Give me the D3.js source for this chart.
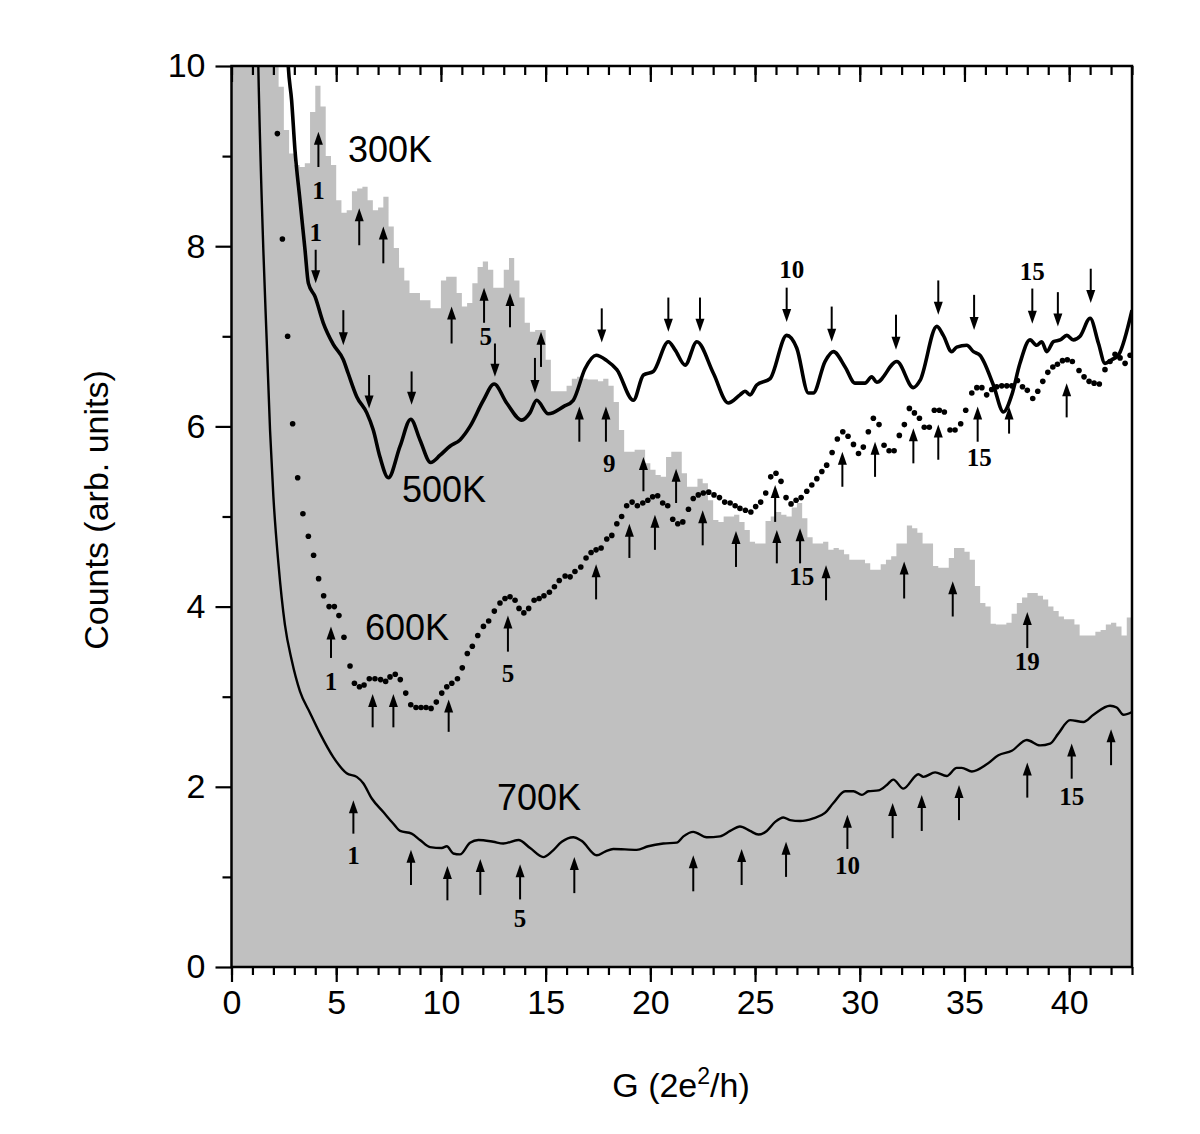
<!DOCTYPE html>
<html><head><meta charset="utf-8">
<script src="https://cdn.jsdelivr.net/npm/d3@7"></script>
<style>body{margin:0;background:#fff}</style>
</head><body>
<script>
// ---------- DATA ----------
// 300K histogram: bin width 0.25, bins start at G = 0
const histBinWidth = 0.25;
const hist300 = [
 15,15,15,15,15,15,15,15,15,
 9.77,9.29,9.03,8.90,8.88,8.92,9.49,9.78,9.55,9.00,8.90,8.51,8.37,8.40,8.61,8.64,
 8.66,8.51,8.40,8.43,8.55,8.22,7.98,7.76,7.62,7.48,7.48,7.40,7.40,7.31,7.31,7.62,
 7.66,7.66,7.48,7.33,7.37,7.59,7.77,7.83,7.74,7.54,7.54,7.74,7.87,7.62,7.43,7.15,
 7.05,7.07,7.07,6.74,6.39,6.39,6.39,6.45,6.53,6.55,6.53,6.52,6.52,6.50,6.53,6.45,
 6.27,5.96,5.72,5.72,5.74,5.74,5.59,5.52,5.46,5.44,5.66,5.72,5.72,5.48,5.33,5.33,
 5.42,5.37,5.18,4.96,4.94,5.00,5.00,5.02,4.94,4.85,4.72,4.70,4.70,4.95,5.00,5.05,
 5.02,5.00,5.10,5.15,4.98,4.77,4.70,4.70,4.72,4.63,4.65,4.63,4.58,4.52,4.52,4.52,
 4.48,4.41,4.41,4.47,4.52,4.56,4.70,4.70,4.90,4.87,4.82,4.70,4.70,4.45,4.43,4.43,
 4.54,4.65,4.65,4.61,4.52,4.23,4.04,4.00,3.81,3.80,3.80,3.82,3.92,4.04,4.10,4.15,
 4.15,4.12,4.08,4.00,3.95,3.89,3.86,3.86,3.80,3.68,3.68,3.68,3.72,3.74,3.80,3.82,
 3.78,3.68,3.88
];

// 500K solid line
const g500 = [2.60,2.71,2.87,3.03,3.27,3.51,3.67,3.99,4.38,4.86,5.34,5.57,5.98,6.46,6.77,7.09,7.49,8.05,8.56,9.00,9.51,9.96,10.43,10.91,11.39,12.03,12.54,13.14,13.86,14.25,14.57,15.13,15.85,16.32,16.88,17.41,17.92,18.40,19.19,19.67,20.14,20.86,21.18,21.66,22.22,23.01,23.72,24.28,24.52,24.76,25.08,25.72,26.51,26.99,27.55,27.78,28.34,28.74,29.30,29.78,30.25,30.57,30.81,31.77,32.56,32.88,33.68,33.99,34.39,34.63,35.11,35.43,35.74,36.38,36.86,37.26,37.65,38.13,38.45,38.69,38.93,39.25,39.57,39.89,40.20,40.52,41.00,41.40,41.71,42.03,42.35,43.00];
const c500 = [10.6,10.0,9.62,9.07,8.51,7.96,7.59,7.44,7.15,6.91,6.74,6.59,6.33,6.15,5.96,5.66,5.43,5.78,6.08,5.85,5.60,5.68,5.78,5.85,6.00,6.29,6.47,6.26,6.07,6.15,6.29,6.14,6.22,6.29,6.64,6.79,6.73,6.63,6.29,6.57,6.61,6.94,6.85,6.68,6.94,6.59,6.26,6.35,6.39,6.35,6.46,6.53,7.01,6.87,6.37,6.37,6.72,6.83,6.66,6.48,6.48,6.55,6.49,6.72,6.43,6.51,7.11,7.01,6.83,6.88,6.90,6.83,6.79,6.46,6.16,6.35,6.70,6.96,6.90,6.94,6.83,6.94,6.96,7.01,6.96,7.00,7.20,6.92,6.70,6.74,6.79,7.29];

// 600K dotted series
const g600 = [2.19,2.43,2.68,2.92,3.16,3.41,3.67,3.92,4.16,4.40,4.66,4.91,5.13,5.37,5.66,5.87,6.11,6.33,6.58,6.85,7.12,7.36,7.57,7.82,8.06,8.32,8.56,8.81,9.05,9.29,9.53,9.78,10.04,10.28,10.52,10.79,11.02,11.26,11.50,11.76,12.03,12.28,12.55,12.82,13.06,13.30,13.54,13.73,13.96,14.19,14.45,14.69,14.92,15.18,15.42,15.65,15.93,16.17,16.40,16.68,16.93,17.17,17.41,17.65,17.92,18.16,18.40,18.63,18.87,19.13,19.38,19.64,19.88,20.11,20.35,20.59,20.83,21.07,21.31,21.55,21.82,22.05,22.29,22.53,22.79,23.04,23.30,23.55,23.81,24.05,24.28,24.54,24.80,25.03,25.27,25.51,25.75,26.00,26.24,26.48,26.72,26.96,27.20,27.47,27.71,27.95,28.19,28.42,28.68,28.93,29.19,29.44,29.70,29.94,30.17,30.41,30.65,30.92,31.16,31.40,31.64,31.89,32.13,32.37,32.61,32.85,33.08,33.32,33.56,33.80,34.04,34.31,34.55,34.82,35.06,35.35,35.59,35.83,36.06,36.30,36.54,36.78,37.02,37.26,37.53,37.77,38.00,38.26,38.50,38.74,38.98,39.22,39.44,39.68,39.91,40.15,40.47,40.71,40.95,41.19,41.44,41.71,41.95,42.19,42.43,42.67,42.91];
const c600 = [9.25,8.08,7.00,6.03,5.43,5.03,4.78,4.57,4.31,4.12,4.00,4.00,3.90,3.66,3.34,3.15,3.11,3.13,3.20,3.20,3.19,3.17,3.22,3.25,3.19,3.04,2.91,2.88,2.88,2.88,2.87,2.94,3.04,3.11,3.15,3.20,3.32,3.48,3.56,3.68,3.78,3.84,3.95,4.04,4.09,4.11,4.07,3.98,3.93,3.98,4.07,4.09,4.12,4.16,4.22,4.29,4.34,4.33,4.39,4.44,4.54,4.60,4.63,4.65,4.75,4.79,4.92,5.00,5.12,5.16,5.12,5.15,5.18,5.22,5.23,5.15,5.12,4.97,4.92,4.94,5.08,5.20,5.24,5.26,5.27,5.24,5.21,5.16,5.15,5.12,5.09,5.07,5.05,5.11,5.16,5.26,5.44,5.48,5.39,5.21,5.14,5.18,5.21,5.28,5.35,5.42,5.50,5.57,5.71,5.86,5.94,5.89,5.80,5.70,5.77,5.94,6.09,6.02,5.79,5.73,5.73,5.90,6.02,6.20,6.15,6.09,5.99,5.99,6.18,6.18,6.16,5.96,5.96,6.03,6.18,6.37,6.43,6.43,6.35,6.41,6.44,6.45,6.45,6.45,6.51,6.44,6.40,6.31,6.39,6.50,6.60,6.66,6.69,6.73,6.74,6.72,6.62,6.55,6.50,6.48,6.47,6.63,6.72,6.80,6.76,6.70,6.79];

// 700K solid line
const g700 = [1.20,1.28,1.52,1.68,1.84,2.00,2.24,2.55,2.87,3.27,3.75,4.23,4.86,5.50,5.98,6.29,6.70,7.25,7.73,8.05,8.60,9.00,9.48,10.04,10.28,10.59,10.91,11.39,11.79,12.50,12.98,13.70,14.26,14.89,15.29,15.77,16.32,16.72,17.44,17.84,18.23,19.35,19.90,20.62,21.26,21.58,22.05,22.69,23.33,23.81,24.28,24.76,25.16,25.56,25.96,26.35,26.67,27.15,27.78,28.34,28.74,29.30,29.70,30.10,30.41,30.89,31.29,31.60,32.08,32.80,33.04,33.60,34.15,34.63,34.87,35.35,36.06,36.62,37.26,37.98,38.61,39.09,39.48,40.04,40.68,41.16,41.95,42.27,42.59,43.00];
const c700 = [11.0,10.0,7.96,6.96,5.96,5.22,4.48,3.80,3.41,3.06,2.82,2.59,2.33,2.15,2.11,2.04,1.87,1.72,1.59,1.51,1.48,1.41,1.33,1.32,1.34,1.26,1.25,1.38,1.41,1.39,1.37,1.41,1.32,1.22,1.28,1.39,1.44,1.40,1.24,1.28,1.31,1.30,1.34,1.37,1.38,1.45,1.50,1.44,1.45,1.51,1.56,1.51,1.47,1.51,1.61,1.66,1.63,1.62,1.65,1.71,1.82,1.95,1.95,1.91,1.95,1.96,2.02,2.08,1.98,2.14,2.11,2.16,2.12,2.21,2.21,2.17,2.25,2.35,2.40,2.52,2.46,2.48,2.59,2.74,2.72,2.80,2.90,2.88,2.80,2.83];

// arrows: G position, tail value, tip value
const arrowG    = [4.15,4.02,6.10,7.25,5.34,10.51,12.06,13.30,12.58,14.49,14.78,6.57,8.60,17.68,20.86,22.37,26.51,28.66,31.73,33.75,35.46,38.24,39.46,41.03,
                   16.61,17.88,19.67,21.23,19.00,20.22,22.50,17.41,24.09,25.96,26.04,27.15,28.39,29.17,30.73,32.56,33.75,35.63,37.13,39.88,32.12,34.44,38.00,
                   4.75,6.74,7.73,10.37,13.20,5.82,8.57,10.31,11.88,13.78,16.37,22.05,24.36,26.48,29.41,31.57,32.96,34.74,38.00,40.12,42.00];
const arrowTail = [8.88,7.96,8.01,7.81,7.29,6.92,7.15,7.10,6.92,6.76,6.66,6.57,6.61,7.31,7.43,7.43,7.54,7.33,7.24,7.62,7.46,7.53,7.49,7.75,
                   5.83,5.83,5.28,5.15,4.54,4.63,4.68,4.08,4.44,4.94,4.48,4.48,4.07,5.33,5.44,5.59,5.63,5.83,5.92,6.10,4.09,3.89,3.54,
                   3.43,2.66,2.66,2.61,3.50,1.48,0.91,0.74,0.80,0.75,0.82,0.84,0.91,1.00,1.31,1.43,1.51,1.63,1.88,2.09,2.24];
const arrowTip  = [9.27,7.59,8.42,8.22,6.90,7.33,7.54,7.48,6.55,6.37,7.05,6.20,6.24,6.93,7.05,7.05,7.16,6.94,6.85,7.24,7.07,7.14,7.11,7.37,
                   6.22,6.22,5.66,5.53,4.92,5.02,5.07,4.47,4.84,5.35,4.85,4.87,4.46,5.72,5.83,5.98,6.02,6.22,6.22,6.48,4.50,4.28,3.94,
                   3.78,3.03,3.03,2.97,3.90,1.85,1.30,1.12,1.20,1.14,1.22,1.24,1.31,1.39,1.69,1.82,1.91,2.02,2.27,2.48,2.64];

// peak index labels: text, G, value (centre)
const idxText = ["1","1","5","9","10","15","15","15","19","1","5","1","5","10","15"];
const idxG    = [4.15,4.02,12.14,18.04,26.75,38.24,27.23,35.71,38.00,4.75,13.20,5.82,13.78,29.41,40.12];
const idxVal  = [8.62,8.15,7.00,5.59,7.74,7.72,4.33,5.65,3.39,3.17,3.26,1.24,0.54,1.13,1.89];

// temperature labels: text, G (left edge), value (baseline)
const tempText = ["300K","500K","600K","700K"];
const tempG    = [5.56,8.14,6.37,12.68];
const tempVal  = [8.93,5.16,3.63,1.74];

const xMajor = [0,5,10,15,20,25,30,35,40];
const yMajor = [0,2,4,6,8,10];

// ---------- CHART ----------
const W = 1200, H = 1134;
const L = 231.5, R = 1132, T = 66, B = 967;
const svg = d3.select("body").append("svg").attr("width", W).attr("height", H);
const x = d3.scaleLinear().domain([0, 43]).range([L, R]);
const y = d3.scaleLinear().domain([0, 10]).range([B, T]);

svg.append("clipPath").attr("id", "clip").append("rect")
  .attr("x", L).attr("y", T).attr("width", R - L).attr("height", B - T);
const plot = svg.append("g").attr("clip-path", "url(#clip)");

// histogram
const histPts = hist300.map((v, i) => ({g: i * histBinWidth, v}));
histPts.push({g: 43, v: hist300[hist300.length - 1]});
plot.append("path").datum(histPts)
  .attr("fill", "#c0c0c0")
  .attr("d", d3.area().curve(d3.curveStepAfter).x(d => x(d.g)).y0(y(0)).y1(d => y(d.v)));

// lines
const line = d3.line().x(d => x(d[0])).y(d => y(d[1])).curve(d3.curveMonotoneX);
plot.append("path").datum(g500.map((g, i) => [g, c500[i]]))
  .attr("fill", "none").attr("stroke", "#000").attr("stroke-width", 3.6).attr("stroke-linejoin", "round")
  .attr("d", line);
plot.append("path").datum(g700.map((g, i) => [g, c700[i]]))
  .attr("fill", "none").attr("stroke", "#000").attr("stroke-width", 2.4).attr("stroke-linejoin", "round")
  .attr("d", line);

// dots
plot.selectAll("circle.d600").data(g600.map((g, i) => [g, c600[i]])).enter()
  .append("circle").attr("class", "d600")
  .attr("cx", d => x(d[0])).attr("cy", d => y(d[1])).attr("r", 2.8).attr("fill", "#000");

// arrows
const ag = plot.append("g");
arrowG.forEach((g, i) => {
  const px = x(g), yt = y(arrowTail[i]), yh = y(arrowTip[i]);
  const dir = yh < yt ? 1 : -1; // 1: pointing up
  const hl = 13, hw = 4.5;
  ag.append("line").attr("x1", px).attr("x2", px).attr("y1", yt).attr("y2", yh + dir * (hl - 2))
    .attr("stroke", "#000").attr("stroke-width", 2);
  ag.append("path").attr("fill", "#000")
    .attr("d", `M${px},${yh} L${px - hw},${yh + dir * hl} L${px + hw},${yh + dir * hl} Z`);
});

// index labels
svg.selectAll("text.idx").data(idxText).enter().append("text").attr("class", "idx")
  .attr("x", (d, i) => x(idxG[i])).attr("y", (d, i) => y(idxVal[i]) + 8.5)
  .attr("text-anchor", "middle")
  .style("font-family", "'Liberation Serif','Times New Roman',serif").style("font-weight", "bold").style("font-size", "25px")
  .text(d => d);

// temperature labels
svg.selectAll("text.temp").data(tempText).enter().append("text").attr("class", "temp")
  .attr("x", (d, i) => x(tempG[i])).attr("y", (d, i) => y(tempVal[i]))
  .style("font-family", "'Liberation Sans',Arial,sans-serif").style("font-size", "36px")
  .text(d => d);

// axes
const tickStyle = g => { g.selectAll("line").attr("stroke", "#000").attr("stroke-width", 2.2); g.select(".domain").remove(); };
const lab = g => g.selectAll("text").style("font-family", "'Liberation Sans',Arial,sans-serif").style("font-size", "34px").attr("fill", "#000");

// bottom
svg.append("g").attr("transform", `translate(0,${B})`)
  .call(d3.axisBottom(x).tickValues(d3.range(0, 44, 1)).tickSize(8).tickFormat(""))
  .call(tickStyle);
svg.append("g").attr("transform", `translate(0,${B})`)
  .call(d3.axisBottom(x).tickValues(xMajor).tickSize(15).tickPadding(8).tickFormat(d3.format("d")))
  .call(tickStyle).call(lab);
// top (inward)
svg.append("g").attr("transform", `translate(0,${T})`)
  .call(d3.axisBottom(x).tickValues(d3.range(0, 44, 1)).tickSize(9).tickFormat(""))
  .call(tickStyle);
svg.append("g").attr("transform", `translate(0,${T})`)
  .call(d3.axisBottom(x).tickValues(xMajor).tickSize(16).tickFormat(""))
  .call(tickStyle);
// left
svg.append("g").attr("transform", `translate(${L},0)`)
  .call(d3.axisLeft(y).tickValues([1,3,5,7,9]).tickSize(9).tickFormat(""))
  .call(tickStyle);
svg.append("g").attr("transform", `translate(${L},0)`)
  .call(d3.axisLeft(y).tickValues(yMajor).tickSize(16).tickPadding(10).tickFormat(d3.format("d")))
  .call(tickStyle).call(lab);

// frame
svg.append("rect").attr("x", L).attr("y", T).attr("width", R - L).attr("height", B - T)
  .attr("fill", "none").attr("stroke", "#000").attr("stroke-width", 2.5);

// axis titles
const xt = svg.append("text").attr("x", 681).attr("y", 1097).attr("text-anchor", "middle")
  .style("font-family", "'Liberation Sans',Arial,sans-serif").style("font-size", "34px");
xt.append("tspan").text("G (2e");
xt.append("tspan").attr("dy", -13).style("font-size", "23px").text("2");
xt.append("tspan").attr("dy", 13).text("/h)");

svg.append("text").attr("transform", "translate(108,510) rotate(-90)").attr("text-anchor", "middle")
  .style("font-family", "'Liberation Sans',Arial,sans-serif").style("font-size", "34px")
  .text("Counts (arb. units)");
</script>
</body></html>
